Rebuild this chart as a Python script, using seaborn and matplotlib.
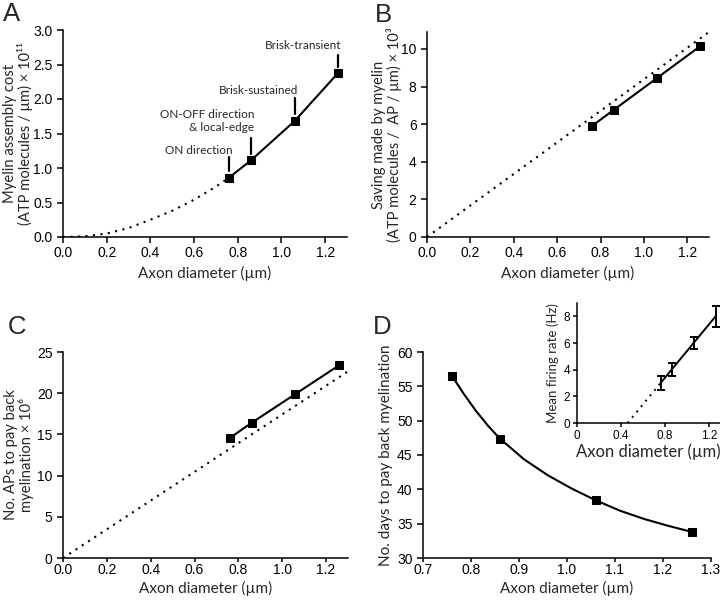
import numpy as np
import seaborn as sns
from matplotlib import pyplot as plt

# axon diameters of the four RGC classes (µm)
diam = [0.76, 0.86, 1.06, 1.26]

# A: myelin assembly cost (x 10^11)
cost = [0.86, 1.11, 1.68, 2.38]
cost_ext_x = [0.0, 0.1, 0.2, 0.3, 0.4, 0.5, 0.6, 0.7, 0.76]
cost_ext_y = [0.0, 0.01, 0.05, 0.13, 0.25, 0.38, 0.54, 0.73, 0.86]
cell_types = ["ON direction", "ON-OFF direction\n& local-edge", "Brisk-sustained", "Brisk-transient"]

# B: saving made by myelin (x 10^3)
saving = [5.9, 6.75, 8.45, 10.15]
saving_ref_x = [0.0, 1.3]
saving_ref_y = [0.0, 10.9]

# C: APs to pay back myelination (x 10^6)
aps = [14.55, 16.4, 19.9, 23.4]
aps_ref_x = [0.0, 1.3]
aps_ref_y = [0.0, 22.65]

# D: days to pay back myelination
days = [56.55, 47.4, 38.4, 33.8]
days_curve_x = [0.76, 0.785, 0.81, 0.835, 0.86, 0.91, 0.96, 1.01, 1.06, 1.11, 1.16, 1.21, 1.26]
days_curve_y = [56.55, 53.9, 51.45, 49.3, 47.4, 44.4, 42.05, 40.1, 38.4, 36.9, 35.7, 34.7, 33.8]

# D inset: mean firing rate (Hz)
rate = [3.0, 4.0, 6.0, 8.0]
rate_err = [0.5, 0.5, 0.48, 0.8]
rate_fit_x = [0.46, 0.76, 1.26]
rate_fit_y = [0.0, 3.0, 8.0]

sns.set_style("ticks")
plt.rcParams['font.family'] = ['Liberation Sans', 'DejaVu Sans']
plt.rcParams['axes.linewidth'] = 1.1
plt.rcParams['xtick.major.width'] = 1.1
plt.rcParams['ytick.major.width'] = 1.1
plt.rcParams['xtick.major.size'] = 4
plt.rcParams['ytick.major.size'] = 4
plt.rcParams['xtick.labelsize'] = 10
plt.rcParams['ytick.labelsize'] = 10
plt.rcParams['xtick.color'] = 'black'
plt.rcParams['ytick.color'] = 'black'
plt.rcParams['axes.edgecolor'] = 'black'

W, H = 720, 601
fig = plt.figure(figsize=(7.2, 6.01), dpi=100)

def add_axes(left, right, top, bottom):
    return fig.add_axes([left / W, 1 - bottom / H, (right - left) / W, (bottom - top) / H])

lato = ['Lato', 'DejaVu Sans']
lab_font = dict(family=lato, fontsize=11, linespacing=1.05)
ylab_font = dict(family=lato, fontsize=10.6, linespacing=1.0)
dot = (0, (1, 2.6))
line_kw = dict(color='black', linewidth=1.5)
mk_kw = dict(marker='s', markersize=5.5, markeredgecolor='black', markerfacecolor='black')

axA = add_axes(63, 347, 30, 237)
axB = add_axes(427, 709, 32, 237)
axC = add_axes(63, 348, 352, 558)
axD = add_axes(423, 711, 352, 558)
axI = add_axes(577, 720, 303, 423)

xticks = np.arange(0, 1.21, 0.2)

# A
sns.lineplot(x=cost_ext_x, y=cost_ext_y, ax=axA, linestyle=dot, **line_kw)
sns.lineplot(x=diam, y=cost, ax=axA, **line_kw, **mk_kw)
axA.set_xlim(0, 1.3)
axA.set_ylim(0, 3.0)
axA.set_xticks(xticks)
axA.set_xticklabels([f"{t:.1f}" for t in xticks])
axA.set_yticks(np.arange(0, 3.01, 0.5))
axA.set_yticklabels([f"{t:.1f}" for t in np.arange(0, 3.01, 0.5)])
axA.set_ylabel("Myelin assembly cost\n(ATP molecules / µm) × 10¹¹", **ylab_font)
axA.yaxis.set_label_coords(-0.104, 0.5)
text_pos = [(0.775, 1.25, 0.95, 1.16), (0.875, 1.68, 1.20, 1.43), (1.075, 2.12, 1.78, 2.01), (1.275, 2.78, 2.46, 2.64)]
for xd, name, (tx, ty, l0, l1) in zip(diam, cell_types, text_pos):
    axA.plot([xd, xd], [l0, l1], color='black', linewidth=1.6)
    axA.text(tx, ty, name, ha='right', va='center', fontsize=8.5, family=lato, linespacing=1.2)

# B
sns.lineplot(x=saving_ref_x, y=saving_ref_y, ax=axB, linestyle=dot, **line_kw)
sns.lineplot(x=diam, y=saving, ax=axB, **line_kw, **mk_kw)
axB.set_xlim(0, 1.3)
axB.set_ylim(0, 10.9)
axB.set_xticks(xticks)
axB.set_xticklabels([f"{t:.1f}" for t in xticks])
axB.set_yticks(range(0, 11, 2))
axB.set_ylabel("Saving made by myelin\n(ATP molecules /  AP / µm) × 10³", **ylab_font)
axB.yaxis.set_label_coords(-0.088, 0.5)

# C
sns.lineplot(x=aps_ref_x, y=aps_ref_y, ax=axC, linestyle=dot, **line_kw)
sns.lineplot(x=diam, y=aps, ax=axC, **line_kw, **mk_kw)
axC.set_xlim(0, 1.3)
axC.set_ylim(0, 25)
axC.set_xticks(xticks)
axC.set_xticklabels([f"{t:.1f}" for t in xticks])
axC.set_yticks(range(0, 26, 5))
axC.set_ylabel("No. APs to pay back\nmyelination × 10⁶", **ylab_font)
axC.yaxis.set_label_coords(-0.1, 0.5)

# D
sns.lineplot(x=days_curve_x, y=days_curve_y, ax=axD, **line_kw)
sns.lineplot(x=diam, y=days, ax=axD, linestyle='none', **mk_kw)
axD.set_xlim(0.7, 1.3)
axD.set_ylim(30, 60)
dt = np.arange(0.7, 1.31, 0.1)
axD.set_xticks(dt)
axD.set_xticklabels([f"{t:.1f}" for t in dt])
axD.set_yticks(range(30, 61, 5))
axD.set_ylabel("No. days to pay back myelination", **lab_font)
axD.yaxis.set_label_coords(-0.104, 0.5)

for ax in (axA, axB):
    ax.set_xlabel("Axon diameter (µm)", labelpad=4, **lab_font)
    ax.tick_params(axis='x', pad=2.5)
for ax in (axC, axD):
    ax.set_xlabel("Axon diameter (µm)", labelpad=3, **lab_font)
    ax.tick_params(axis='x', length=3, pad=0.5)
for ax in (axA, axB, axC, axD):
    sns.despine(ax=ax)

# inset
sns.lineplot(x=rate_fit_x[:2], y=rate_fit_y[:2], ax=axI, linestyle=dot, color='black', linewidth=1.4)
sns.lineplot(x=rate_fit_x[1:], y=rate_fit_y[1:], ax=axI, color='black', linewidth=1.4)
axI.errorbar(diam, rate, yerr=rate_err, fmt='none', ecolor='black', elinewidth=1.4, capsize=3, capthick=1.4)
axI.set_xlim(0, 1.3)
axI.set_ylim(0, 9)
axI.set_xticks([0, 0.4, 0.8, 1.2])
axI.set_xticklabels(["0", "0.4", "0.8", "1.2"])
axI.set_yticks(range(0, 9, 2))
axI.tick_params(labelsize=8.5, length=3, pad=2)
axI.set_xlabel("Axon diameter (µm)", labelpad=1, family=lato, fontsize=12)
axI.set_ylabel("Mean firing rate (Hz)", family=lato, fontsize=9.5)
axI.yaxis.set_label_coords(-0.125, 0.5)
sns.despine(ax=axI)

for lab, (px, py) in zip("ABCD", [(3, 2), (375, 3), (8, 315), (373, 315)]):
    fig.text(px / W, 1 - py / H, lab, fontsize=18.5, ha='left', va='top')

fig.savefig("out.png", dpi=100)
